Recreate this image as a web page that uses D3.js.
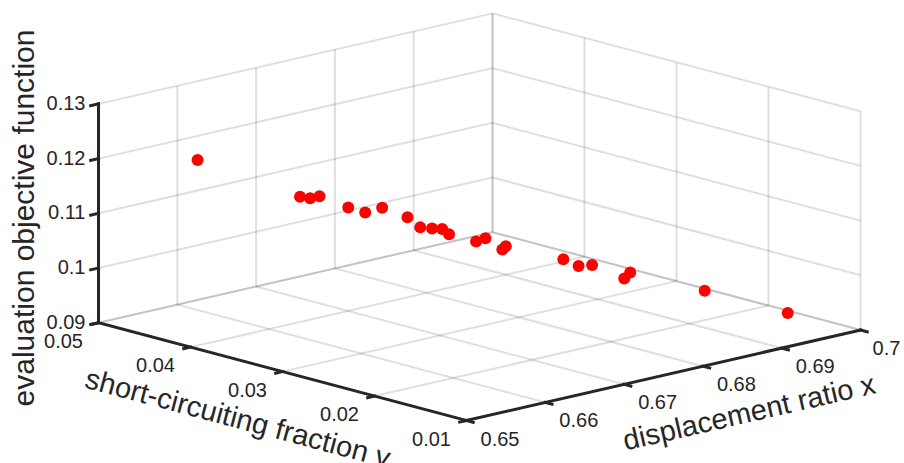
<!DOCTYPE html>
<html>
<head>
<meta charset="utf-8">
<script src="https://cdn.jsdelivr.net/npm/d3@7"></script>
<style>
  html, body { margin: 0; padding: 0; background: #fff; }
  svg { display: block; font-family: "Liberation Sans", Arial, sans-serif; }
</style>
</head>
<body>
<svg id="chart" width="904" height="463"></svg>
<script>
// data: displacement ratio x, short-circuiting fraction y, objective z
const xVals = [0.6565, 0.6632, 0.6639, 0.6645, 0.6664, 0.6675, 0.6686, 0.6703,
               0.6711, 0.6719, 0.6726, 0.6730, 0.6748, 0.6754, 0.6765, 0.6767,
               0.6805, 0.6815, 0.6824, 0.6845, 0.6849, 0.6898, 0.6952];
const yVals = [0.0448, 0.0394, 0.0389, 0.0384, 0.0369, 0.0360, 0.0351, 0.0338,
               0.0331, 0.0325, 0.0320, 0.0316, 0.0302, 0.0297, 0.0288, 0.0286,
               0.0256, 0.0248, 0.0241, 0.0224, 0.0221, 0.0182, 0.0138];
const zVals = [0.1199, 0.1134, 0.1131, 0.1135, 0.1115, 0.1106, 0.1115, 0.1098,
               0.1080, 0.1078, 0.1077, 0.1068, 0.1055, 0.1061, 0.1041, 0.1047,
               0.1024, 0.1012, 0.1014, 0.0990, 0.1001, 0.0969, 0.0930];

const xTicks = [0.65, 0.66, 0.67, 0.68, 0.69, 0.7];
const yTicks = [0.01, 0.02, 0.03, 0.04, 0.05];
const zTicks = [0.09, 0.1, 0.11, 0.12, 0.13];

const xLabel = "displacement ratio x";
const yLabel = "short-circuiting fraction y";
const zLabel = "evaluation objective function";

const svg = d3.select("#chart");
const ink = "#262626";

// axis scales into "tick units", then an orthographic projection onto the page
const xs = d3.scaleLinear().domain([0.65, 0.7]).range([0, 5]);
const ys = d3.scaleLinear().domain([0.01, 0.05]).range([0, 4]);
const zs = d3.scaleLinear().domain([0.09, 0.13]).range([0, 4]);

const origin = [466.5, 420.5];      // x=0.65, y=0.01, z=0.09
const ex = [78.8, -18.1], ey = [-92, -24.45], ez = [0, -54.7];

function proj(x, y, z) {
  const a = xs(x), b = ys(y), c = zs(z);
  return [origin[0] + a * ex[0] + b * ey[0] + c * ez[0],
          origin[1] + a * ex[1] + b * ey[1] + c * ez[1]];
}

const [x0, x1] = xs.domain(), [y0, y1] = ys.domain(), [z0, z1] = zs.domain();

// grid lines: floor, back-left wall (y=max), back-right wall (x=max)
const grid = [];
xTicks.forEach(t => {
  grid.push([proj(t, y0, z0), proj(t, y1, z0)]);
  grid.push([proj(t, y1, z0), proj(t, y1, z1)]);
});
yTicks.forEach(t => {
  grid.push([proj(x0, t, z0), proj(x1, t, z0)]);
  grid.push([proj(x1, t, z0), proj(x1, t, z1)]);
});
zTicks.forEach(t => {
  grid.push([proj(x0, y1, t), proj(x1, y1, t)]);
  grid.push([proj(x1, y0, t), proj(x1, y1, t)]);
});

svg.append("g").selectAll("line").data(grid).join("line")
  .attr("x1", d => d[0][0]).attr("y1", d => d[0][1])
  .attr("x2", d => d[1][0]).attr("y2", d => d[1][1])
  .attr("stroke", ink).attr("stroke-opacity", 0.15).attr("stroke-width", 2);

// axis lines
const axes = svg.append("g").attr("stroke", ink).attr("stroke-width", 3)
  .attr("stroke-linecap", "square");
const axisLines = [
  [proj(x0, y1, z0), proj(x0, y1, z1)],
  [proj(x0, y1, z0), proj(x0, y0, z0)],
  [proj(x0, y0, z0), proj(x1, y0, z0)]
];
axes.selectAll("line.ax").data(axisLines).join("line").attr("class", "ax")
  .attr("x1", d => d[0][0]).attr("y1", d => d[0][1])
  .attr("x2", d => d[1][0]).attr("y2", d => d[1][1]);

// tick marks
const nx = Math.hypot(ex[0], ex[1]), ny = Math.hypot(ey[0], ey[1]);
const dirOutX = [-ex[0] / nx, -ex[1] / nx];   // towards smaller x
const dirOutY = [-ey[0] / ny, -ey[1] / ny];   // towards smaller y
const ticks = [];
zTicks.forEach(t => ticks.push({ p: proj(x0, y1, t), d: dirOutX, len: 8 }));
yTicks.forEach(t => ticks.push({ p: proj(x0, t, z0), d: dirOutX, len: 7 }));
xTicks.forEach(t => ticks.push({ p: proj(t, y0, z0), d: dirOutY, len: 7 }));
axes.selectAll("line.tk").data(ticks).join("line").attr("class", "tk")
  .attr("x1", d => d.p[0]).attr("y1", d => d.p[1])
  .attr("x2", d => d.p[0] + d.d[0] * d.len).attr("y2", d => d.p[1] + d.d[1] * d.len);

// tick labels
const fmt = d => String(+d.toFixed(2));
const lab = svg.append("g").attr("fill", ink).attr("font-size", 20);
lab.selectAll("text.z").data(zTicks).join("text").attr("class", "z")
  .attr("x", d => proj(x0, y1, d)[0] - 13)
  .attr("y", d => proj(x0, y1, d)[1] - 1)
  .attr("text-anchor", "end").attr("dominant-baseline", "central")
  .text(fmt);
lab.selectAll("text.y").data(yTicks).join("text").attr("class", "y")
  .attr("x", d => proj(x0, d, z0)[0] - 35)
  .attr("y", d => proj(x0, d, z0)[1] + 18)
  .attr("text-anchor", "middle").attr("dominant-baseline", "central")
  .text(fmt);
lab.selectAll("text.x").data(xTicks).join("text").attr("class", "x")
  .attr("x", d => proj(d, y0, z0)[0] + (d === 0.7 ? 26 : 33.5))
  .attr("y", d => proj(d, y0, z0)[1] + 18)
  .attr("text-anchor", "middle").attr("dominant-baseline", "central")
  .text(fmt);

// axis titles
const ttl = svg.append("g").attr("fill", ink)
  .attr("text-anchor", "middle").attr("dominant-baseline", "central");
const angY = Math.atan2(-ey[1], -ey[0]) * 180 / Math.PI;
const angX = Math.atan2(ex[1], ex[0]) * 180 / Math.PI;
ttl.append("text").attr("font-size", 30)
  .attr("transform", "translate(23,218) rotate(-90)").text(zLabel);
ttl.append("text").attr("font-size", 29)
  .attr("transform", `translate(238,418) rotate(${angY})`).text(yLabel);
ttl.append("text").attr("font-size", 29)
  .attr("transform", `translate(749,412) rotate(${angX})`).text(xLabel);

// points
const pts = xVals.map((x, i) => proj(x, yVals[i], zVals[i]));
svg.append("g").selectAll("circle").data(pts).join("circle")
  .attr("cx", d => d[0]).attr("cy", d => d[1]).attr("r", 6)
  .attr("fill", "#ff0000");
</script>
</body>
</html>
